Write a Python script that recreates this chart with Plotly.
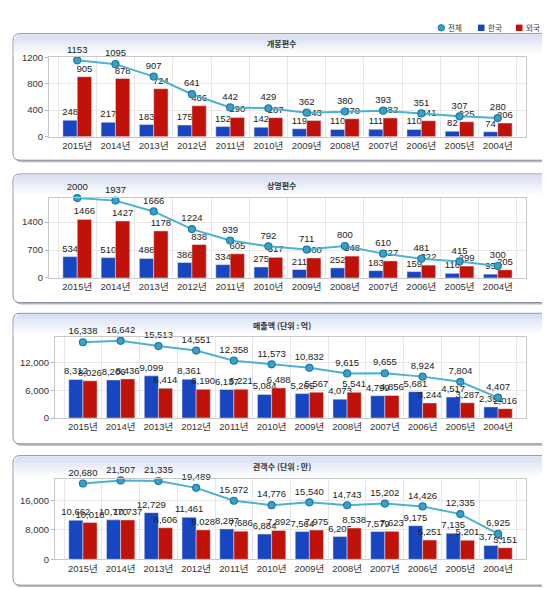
import math
import plotly.graph_objects as go

W, H = 550, 589

# ---------------- data ----------------
years = ["2015년", "2014년", "2013년", "2012년", "2011년", "2010년",
         "2009년", "2008년", "2007년", "2006년", "2005년", "2004년"]

release_total = [1153, 1095, 907, 641, 442, 429, 362, 380, 393, 351, 307, 280]
release_korea = [248, 217, 183, 175, 152, 142, 119, 110, 111, 110, 82, 74]
release_foreign = [905, 878, 724, 466, 290, 287, 243, 270, 282, 241, 225, 206]

screen_total = [2000, 1937, 1666, 1224, 939, 792, 711, 800, 610, 481, 415, 300]
screen_korea = [534, 510, 488, 386, 334, 275, 211, 252, 183, 159, 116, 95]
screen_foreign = [1466, 1427, 1178, 838, 605, 517, 500, 548, 427, 322, 299, 205]

sales_total = [16338, 16642, 15513, 14551, 12358, 11573, 10832, 9615, 9655, 8924, 7804, 4407]
sales_korea = [8312, 8206, 9099, 8361, 6137, 5084, 5265, 4073, 4799, 5681, 4517, 2391]
sales_foreign = [8026, 8436, 6414, 6190, 6221, 6488, 5567, 5541, 4856, 3244, 3287, 2016]

audience_total = [20680, 21507, 21335, 19489, 15972, 14776, 15540, 14743, 15202, 14426, 12335, 6925]
audience_korea = [10662, 10770, 12729, 11461, 8287, 6884, 7564, 6205, 7579, 9175, 7135, 3774]
audience_foreign = [10018, 10737, 8606, 8028, 7686, 7892, 7975, 8538, 7623, 5251, 5201, 3151]

titles = ["개봉편수", "상영편수", "매출액 (단위 : 억)", "관객수 (단위 : 만)"]
series_names = ["전체", "한국", "외국"]
tick_values = [[0, 400, 800, 1200], [0, 700, 1400], [0, 6000, 12000], [0, 8000, 16000]]
y_max = [1200, 2000, 17500, 22000]

totals = [release_total, screen_total, sales_total, audience_total]
koreas = [release_korea, screen_korea, sales_korea, audience_korea]
foreigns = [release_foreign, screen_foreign, sales_foreign, audience_foreign]
comma = [False, False, True, True]

# ---------------- layout geometry (pixels) ----------------
plot_left = [41, 41, 47, 47]
plot_right = 518
plot_y = [(44, 125), (187.6, 269), (329, 411.7), (473.5, 555.7)]
boxes = [(20, 149), (163, 294), (305, 438), (450, 582)]
title_y = [30.5, 175, 317.5, 461.5]
box_x = (5, 541)

BLUE = "#1846c0"
RED = "#c01208"
LINE = "#4cb2d2"
MARK = "#3aa0c8"
MARK_EDGE = "#1d7aa3"
FONT = "Liberation Sans, Arial, Noto Sans CJK KR, sans-serif"
KFONT = "Noto Sans CJK KR, sans-serif"
LBL = 9.5


def px(x):
    return x / W


def py(y):
    return 1 - y / H


def rr_path(x0, y0, x1, y1, r):
    pts = [
        f"M {px(x0 + r)},{py(y0)}",
        f"L {px(x1 - r)},{py(y0)}",
        f"Q {px(x1)},{py(y0)} {px(x1)},{py(y0 + r)}",
        f"L {px(x1)},{py(y1 - r)}",
        f"Q {px(x1)},{py(y1)} {px(x1 - r)},{py(y1)}",
        f"L {px(x0 + r)},{py(y1)}",
        f"Q {px(x0)},{py(y1)} {px(x0)},{py(y1 - r)}",
        f"L {px(x0)},{py(y0 + r)}",
        f"Q {px(x0)},{py(y0)} {px(x0 + r)},{py(y0)}",
        "Z",
    ]
    return " ".join(pts)


fig = go.Figure()
shapes = []
annotations = []
layout_axes = {}

for i in range(4):
    n = "" if i == 0 else str(i + 1)
    xa, ya = "x" + n, "y" + n
    tfmt = ",d" if comma[i] else "d"
    ttpl = "%{y:,d}" if comma[i] else "%{y:d}"

    fig.add_trace(go.Bar(x=years, y=koreas[i], name=series_names[1], marker_color=BLUE,
                         text=koreas[i], texttemplate=ttpl, textposition="outside",
                         constraintext="none",
                         textfont=dict(size=LBL, color="#222", family=FONT), cliponaxis=False,
                         showlegend=False, xaxis=xa, yaxis=ya, offsetgroup="k"))
    fig.add_trace(go.Bar(x=years, y=foreigns[i], name=series_names[2], marker_color=RED,
                         text=foreigns[i], texttemplate=ttpl, textposition="outside",
                         constraintext="none",
                         textfont=dict(size=LBL, color="#222", family=FONT), cliponaxis=False,
                         showlegend=False, xaxis=xa, yaxis=ya, offsetgroup="f"))
    fig.add_trace(go.Scatter(x=years, y=totals[i], name=series_names[0], mode="lines+markers+text",
                             line=dict(color=LINE, width=2),
                             marker=dict(color=MARK, size=7, line=dict(color=MARK_EDGE, width=1.2)),
                             text=totals[i], texttemplate=ttpl, textposition="top center",
                             textfont=dict(size=LBL, color="#222", family=FONT), cliponaxis=False,
                             showlegend=False, xaxis=xa, yaxis=ya))

    top, bot = plot_y[i]
    layout_axes["xaxis" + n] = dict(
        domain=[px(plot_left[i]), px(plot_right)], anchor=ya, type="category",
        showgrid=True, gridcolor="#e6e6e6", tickson="boundaries",
        showline=True, linecolor="#c8c8c8", mirror=True,
        ticks="outside", ticklen=2, tickcolor="rgba(0,0,0,0)", tickangle=0,
        tickfont=dict(size=LBL, color="#333", family=FONT), fixedrange=True,
    )
    layout_axes["yaxis" + n] = dict(
        domain=[py(bot), py(top)], anchor=xa, range=[0, y_max[i]],
        tickvals=tick_values[i], tickformat=tfmt,
        showgrid=True, gridcolor="#e6e6e6", zeroline=False,
        showline=True, linecolor="#c8c8c8", mirror=True,
        ticks="outside", ticklen=3, tickcolor="#b8b8b8",
        tickfont=dict(size=LBL, color="#333", family=FONT), fixedrange=True,
    )

    # panel box: shadow, body, gradient header
    b0, b1 = boxes[i]
    r = 7
    shapes.append(dict(type="path", xref="paper", yref="paper", layer="below",
                       path=rr_path(box_x[0] + 1.5, b0 + 2, box_x[1] + 1.5, b1 + 2, r),
                       fillcolor="#b8b8bc", line=dict(width=0)))
    shapes.append(dict(type="path", xref="paper", yref="paper", layer="below",
                       path=rr_path(box_x[0], b0, box_x[1], b1, r),
                       fillcolor="white", line=dict(color="#8e94a6", width=1)))
    steps = 12
    gh = 22.0
    c0 = (216, 223, 242)
    for k in range(steps):
        y0 = b0 + 0.8 + k * gh / steps
        y1 = y0 + gh / steps + 0.3
        dy = y0 - b0
        inset = 0.8
        if dy < r:
            inset = r - math.sqrt(max(r * r - (r - dy) ** 2, 0)) + 0.8
        t = k / (steps - 1)
        col = tuple(int(c + (255 - c) * t) for c in c0)
        shapes.append(dict(type="rect", xref="paper", yref="paper", layer="below",
                           x0=px(box_x[0] + inset), x1=px(box_x[1] - inset),
                           y0=py(y1), y1=py(y0),
                           fillcolor=f"rgb{col}", line=dict(width=0)))

    annotations.append(dict(text="<b>" + titles[i] + "</b>", xref="paper", yref="paper",
                            x=px(274), y=py(title_y[i]), showarrow=False,
                            xanchor="center", yanchor="middle",
                            font=dict(size=8, color="#333", family=KFONT)))

# ---- legend (top right): circle for total line, squares for bars ----
shapes.append(dict(type="circle", xref="paper", yref="paper",
                   x0=px(430), x1=px(436.5), y0=py(17.3), y1=py(10.8),
                   fillcolor=MARK, line=dict(color=MARK_EDGE, width=1)))
shapes.append(dict(type="rect", xref="paper", yref="paper",
                   x0=px(470), x1=px(476.5), y0=py(17.3), y1=py(10.8),
                   fillcolor=BLUE, line=dict(width=0)))
shapes.append(dict(type="rect", xref="paper", yref="paper",
                   x0=px(508), x1=px(514.5), y0=py(17.3), y1=py(10.8),
                   fillcolor=RED, line=dict(width=0)))
for name, lx in zip(series_names, [437.5, 477.5, 516]):
    annotations.append(dict(text=name, xref="paper", yref="paper", x=px(lx), y=py(14),
                            xanchor="left", yanchor="middle", showarrow=False,
                            font=dict(size=7.5, color="#333", family=KFONT)))

fig.update_layout(
    width=W, height=H,
    margin=dict(l=0, r=0, t=0, b=0),
    paper_bgcolor="white", plot_bgcolor="rgba(0,0,0,0)",
    barmode="group", bargap=0.25, bargroupgap=0,
    font=dict(family=FONT, size=LBL, color="#333"),
    shapes=shapes, annotations=annotations,
    showlegend=False,
    hovermode=False,
    **layout_axes,
)

fig.write_html("out.html")
